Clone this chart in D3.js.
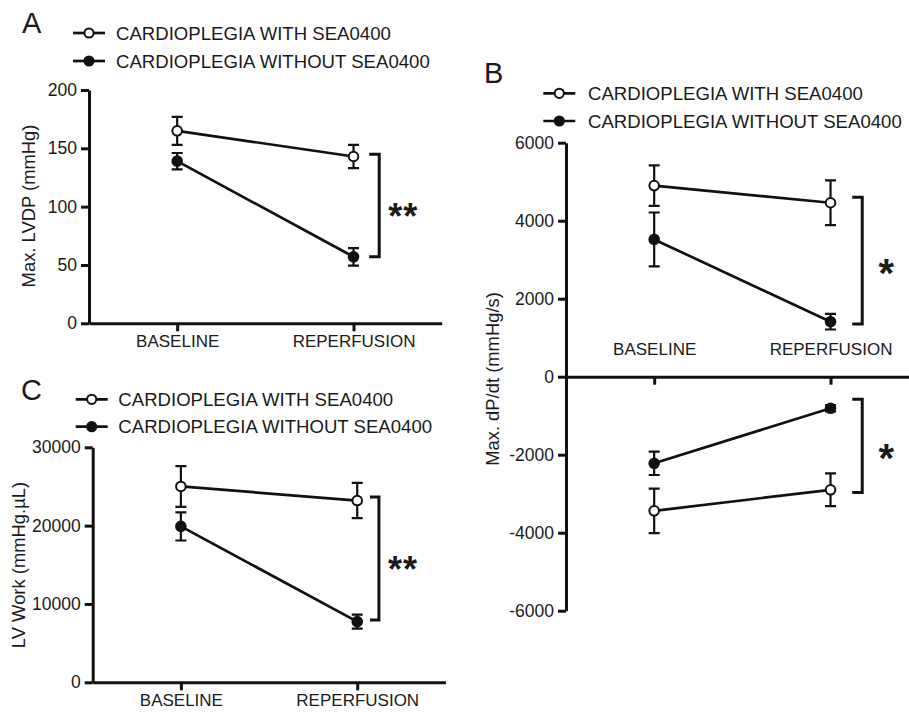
<!DOCTYPE html>
<html>
<head>
<meta charset="utf-8">
<script src="https://cdn.jsdelivr.net/npm/d3@7"></script>
<style>
body { margin: 0; background: #fff; }
text { font-family: Arial, "Liberation Sans", sans-serif; fill: #1a1a1a; }
</style>
</head>
<body>
<div id="fig"></div>
<script>
var width = 909;
var height = 713;
var svg = d3.select("#fig").append("svg").attr("width", width).attr("height", height);

var categories = ["BASELINE", "REPERFUSION"];
var seriesNames = ["CARDIOPLEGIA WITH SEA0400", "CARDIOPLEGIA WITHOUT SEA0400"];

// A - max LVDP (mmHg), mean and error
var lvdpWith = [165, 143];
var lvdpWithErr = [12, 10];
var lvdpWithout = [139, 57];
var lvdpWithoutErr = [7, 7.5];
var lvdpTicks = [0, 50, 100, 150, 200];

// B - max dP/dt (upper half) and min dP/dt (lower half)
var dpdtMaxWith = [4900, 4460];
var dpdtMaxWithErr = [520, 575];
var dpdtMaxWithout = [3520, 1410];
var dpdtMaxWithoutErr = [690, 200];
var dpdtMinWith = [-3440, -2900];
var dpdtMinWithErr = [570, 420];
var dpdtMinWithout = [-2220, -810];
var dpdtMinWithoutErr = [300, 80];
var dpdtTicks = [-6000, -4000, -2000, 0, 2000, 4000, 6000];

// C - LV work
var workWith = [25000, 23200];
var workWithErr = [2600, 2250];
var workWithout = [19900, 7750];
var workWithoutErr = [1800, 900];
var workTicks = [0, 10000, 20000, 30000];

var axisLen = 352.7;

//axes for one panel, returns the scales
function axes(left, yRange, domain, ticks, catAbove){
    var x = d3.scalePoint().domain(categories).range([left, left + axisLen]).padding(0.5);
    var y = d3.scaleLinear().domain(domain).range(yRange);

    var gy = svg.append('g').attr('transform', `translate(${left},0)`)
                .call(d3.axisLeft(y).tickValues(ticks).tickFormat(d => String(d))
                      .tickSize(8).tickPadding(4).tickSizeOuter(0));
    var gx = svg.append('g').attr('transform', `translate(0,${y(0)})`)
                .call(d3.axisBottom(x).tickSize(8).tickPadding(4).tickSizeOuter(0));

    gy.selectAll('text').style('font-size', '17.5px').attr('fill', '#222');
    gx.selectAll('text').style('font-size', '17px').attr('fill', '#222');
    [gx, gy].forEach(function(g){
        g.selectAll('path, line').attr('stroke', '#111').attr('stroke-width', 3);
    });
    if(catAbove)
    {
        // panel B has its category names sitting above the zero line
        gx.selectAll('text').attr('y', -22).attr('dy', 0);
    }
    return {x: x, y: y};
}

function series(sc, means, errs, filled){
    var pts = categories.map(function(c, i){ return {c: c, m: means[i], e: errs[i]}; });
    var g = svg.append('g');
    g.append('path').datum(pts)
     .attr('d', d3.line().x(d => sc.x(d.c)).y(d => sc.y(d.m)))
     .attr('fill', 'none').attr('stroke', '#111').attr('stroke-width', 2.7);
    return {g: g, pts: pts, filled: filled};
}

function bars(sc, s){
    var cap = 5.5;
    s.pts.forEach(function(d){
        var cx = sc.x(d.c);
        var y1 = sc.y(d.m - d.e), y2 = sc.y(d.m + d.e);
        s.g.append('path')
           .attr('d', `M${cx},${y1}V${y2}M${cx - cap},${y1}H${cx + cap}M${cx - cap},${y2}H${cx + cap}`)
           .attr('fill', 'none').attr('stroke', '#111').attr('stroke-width', 2.2);
    });
    s.g.selectAll('circle').data(s.pts).enter().append('circle')
       .attr('cx', d => sc.x(d.c))
       .attr('cy', d => sc.y(d.m))
       .attr('r', 4.8)
       .attr('fill', s.filled ? '#111' : '#fff')
       .attr('stroke', '#111')
       .attr('stroke-width', 2);
}

function plot(sc, withM, withE, withoutM, withoutE){
    var a = series(sc, withM, withE, false);
    var b = series(sc, withoutM, withoutE, true);
    bars(sc, a);
    bars(sc, b);
}

function legend(mx, my, tx, dy){
    seriesNames.forEach(function(name, i){
        var yy = my + i * dy;
        svg.append('line').attr('x1', mx - 16).attr('x2', mx + 16).attr('y1', yy).attr('y2', yy)
           .attr('stroke', '#111').attr('stroke-width', 2.7);
        svg.append('circle').attr('cx', mx).attr('cy', yy).attr('r', 4.6)
           .attr('fill', i == 0 ? '#fff' : '#111').attr('stroke', '#111').attr('stroke-width', 2);
        svg.append('text').attr('x', tx).attr('y', yy + 6.5)
           .style('font-size', '18.6px').text(name);
    });
}

function bracket(sc, v1, v2, off, stub, stars, fs, ls){
    var xr = sc.x(categories[1]) + off;
    var y1 = sc.y(v1), y2 = sc.y(v2);
    svg.append('path')
       .attr('d', `M${xr - stub},${y1}H${xr}V${y2}H${xr - stub}`)
       .attr('fill', 'none').attr('stroke', '#111').attr('stroke-width', 3);
    svg.append('text')
       .attr('x', xr + 24).attr('y', (y1 + y2) / 2 + 4 + 0.553 * fs)
       .attr('text-anchor', 'middle')
       .style('font-size', fs + 'px').style('font-weight', 'bold').style('letter-spacing', ls + 'px')
       .attr('fill', '#111')
       .text(stars);
}

function ylabel(cx, cy, label){
    svg.append('text')
       .attr('transform', `translate(${cx + 6.5},${cy}) rotate(-90)`)
       .attr('text-anchor', 'middle')
       .style('font-size', '18.4px')
       .text(label);
}

function letter(x, y, t){
    svg.append('text').attr('x', x).attr('y', y).style('font-size', '29px').text(t);
}

// panel A
var scA = axes(89, [323.3, 90], [0, 200], lvdpTicks, false);
plot(scA, lvdpWith, lvdpWithErr, lvdpWithout, lvdpWithoutErr);
bracket(scA, lvdpWith[1] + 2, lvdpWithout[1], 25.7, 10, '**', 36, 1);
legend(89, 33, 116, 28);
ylabel(28, 206, 'Max. LVDP (mmHg)');
letter(22, 33, 'A');

// panel B
var scB = axes(566, [610.7, 142.7], [-6000, 6000], dpdtTicks, true);
plot(scB, dpdtMaxWith, dpdtMaxWithErr, dpdtMaxWithout, dpdtMaxWithoutErr);
plot(scB, dpdtMinWith, dpdtMinWithErr, dpdtMinWithout, dpdtMinWithoutErr);
bracket(scB, dpdtMaxWith[1] + 140, dpdtMaxWithout[1] - 60, 31.7, 10, '*', 40, 0);
bracket(scB, dpdtMinWithout[1] + 230, dpdtMinWith[1] - 70, 31.7, 10, '*', 40, 0);
legend(559.3, 93.3, 588, 27.7);
ylabel(492, 379, 'Max. dP/dt (mmHg/s)');
letter(484, 83, 'B');

// panel C
var scC = axes(92.7, [682.3, 447.3], [0, 30000], workTicks, false);
plot(scC, workWith, workWithErr, workWithout, workWithoutErr);
bracket(scC, workWith[1] + 440, workWithout[1] + 200, 21.7, 9, '**', 36, 1);
legend(91.7, 399.3, 118.3, 27.4);
ylabel(18, 565, 'LV Work (mmHg.\u00b5L)');
letter(21, 400, 'C');
</script>
</body>
</html>
